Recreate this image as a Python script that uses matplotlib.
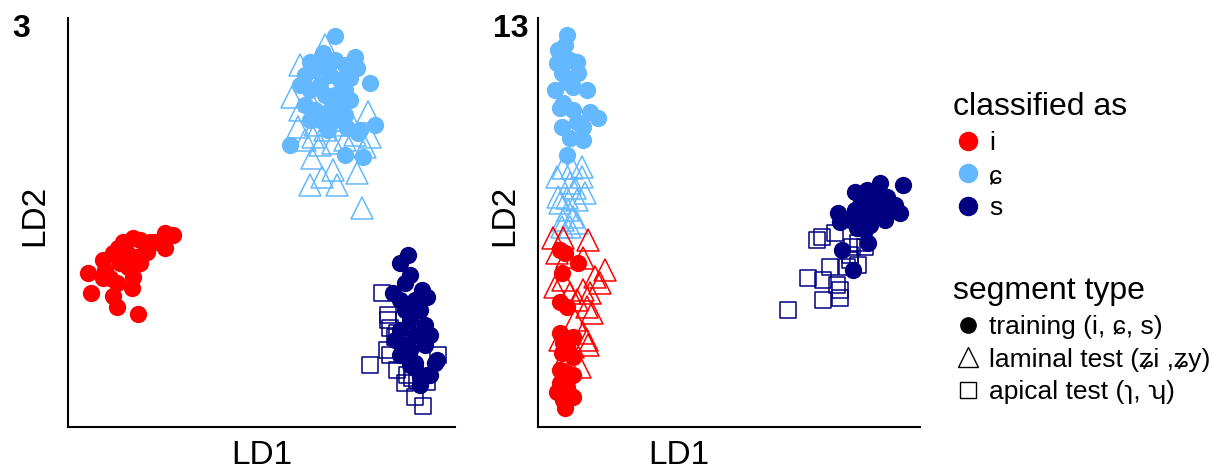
import matplotlib
matplotlib.use("Agg")
import matplotlib.pyplot as plt
from matplotlib.lines import Line2D

plt.rcParams['font.family'] = ['Liberation Sans', 'DejaVu Sans']

RED = '#FF0000'
LBLUE = '#63B8FF'
NAVY = '#000080'

# ---- panel 3 (LD scores, arbitrary units) ----
p3_i_train_x = [20, 23, 45, 49, 70, 64, 65, 55, 65, 87, 97, 105, 97, 79, 35, 37, 45, 52, 60, 42, 35, 49, 69, 59, 50, 72, 72, 82]
p3_i_train_y = [154, 134, 131, 120, 113, 139, 150, 185, 189, 185, 194, 192, 179, 175, 167, 157, 174, 164, 160, 149, 149, 144, 170, 174, 179, 164, 187, 185]

p3_c_train_x = [267, 255, 287, 289, 302, 242, 307, 222, 277, 295, 290, 279, 292, 237, 247, 257, 267, 277, 262, 252, 272, 242, 257, 267, 277, 282, 237, 247, 262, 272, 252, 267, 242, 277, 232, 282, 260]
p3_c_train_y = [391, 374, 370, 359, 344, 365, 302, 282, 272, 270, 294, 299, 297, 352, 357, 362, 367, 362, 352, 342, 347, 337, 332, 332, 337, 349, 322, 317, 317, 322, 307, 307, 307, 312, 342, 327, 297]

p3_c_test_x = [257, 232, 224, 300, 230, 245, 302, 265, 297, 244, 265, 289, 242, 269, 254, 294, 237, 232, 247, 257, 272, 282, 287, 262, 242, 277, 252, 237]
p3_c_test_y = [382, 362, 330, 315, 300, 290, 290, 284, 280, 269, 257, 254, 242, 242, 250, 219, 347, 317, 302, 297, 302, 307, 292, 307, 327, 287, 282, 287]

p3_s_train_x = [340, 332, 342, 337, 325, 354, 359, 367, 352, 347, 369, 347, 359, 332, 337, 342, 332, 347, 337, 352, 357, 342, 332, 357, 347, 362, 327, 342, 352, 362]
p3_s_train_y = [172, 164, 152, 144, 134, 137, 130, 64, 50, 59, 67, 64, 52, 127, 117, 107, 97, 92, 82, 117, 102, 77, 72, 82, 127, 92, 87, 62, 42, 52]

p3_s_test_x = [314, 320, 320, 322, 319, 322, 302, 339, 344, 349, 359, 347, 355, 370, 327, 329, 337, 329]
p3_s_test_y = [134, 112, 107, 99, 77, 72, 62, 52, 49, 47, 45, 30, 21, 72, 90, 94, 44, 57]

# ---- panel 13 ----
p13_c_train_x = [29, 20, 39, 19, 40, 24, 17, 35, 49, 25, 22, 52, 60, 24, 39, 45, 32, 45, 29, 35, 29, 32, 27]
p13_c_train_y = [392, 377, 365, 364, 354, 354, 337, 340, 337, 324, 319, 315, 309, 300, 305, 300, 289, 287, 272, 317, 345, 367, 382]

p13_c_test_x = [44, 34, 25, 19, 44, 32, 37, 47, 20, 29, 39, 22, 30, 35, 25, 39, 24, 32]
p13_c_test_y = [260, 259, 259, 250, 250, 244, 239, 234, 230, 229, 227, 224, 217, 210, 207, 204, 200, 200]

p13_i_train_x = [22, 27, 40, 24, 22, 29, 22, 35, 25, 30, 24, 35, 22, 29, 35, 22, 29, 19, 32, 25, 27, 35]
p13_i_train_y = [177, 174, 164, 154, 125, 120, 94, 90, 84, 77, 74, 70, 57, 54, 52, 44, 40, 35, 32, 27, 19, 30]

p13_i_test_x = [15, 25, 50, 19, 29, 45, 67, 57, 62, 17, 25, 32, 45, 52, 39, 49, 54, 37, 45, 49, 22, 35, 42, 29, 50]
p13_i_test_y = [189, 189, 187, 174, 170, 169, 157, 150, 144, 140, 147, 134, 137, 134, 127, 120, 114, 107, 94, 87, 87, 80, 60, 74, 82]

p13_s_train_x = [365, 342, 317, 329, 349, 300, 302, 362, 304, 315, 322, 332, 342, 352, 337, 327, 317, 347, 332, 322, 312, 357, 340, 327, 319, 327, 330]
p13_s_train_y = [242, 244, 235, 237, 230, 214, 205, 214, 177, 157, 222, 227, 219, 217, 212, 212, 217, 207, 202, 202, 207, 222, 234, 229, 199, 197, 184]

p13_s_test_x = [250, 279, 284, 297, 270, 285, 292, 299, 302, 285, 302, 320, 327, 314, 312, 320, 312, 309]
p13_s_test_y = [117, 187, 190, 194, 149, 147, 160, 142, 129, 127, 137, 184, 180, 180, 167, 162, 172, 160]

fig = plt.figure(figsize=(12.2, 4.72), dpi=100)
ax1 = fig.add_axes([68 / 1220, 45 / 472, 387 / 1220, 409 / 472])
ax2 = fig.add_axes([538 / 1220, 45 / 472, 382 / 1220, 409 / 472])

S_CIRC, S_TRI, S_SQ = 155, 250, 135
LW = 1.1

def panel(ax, groups):
    for x, y, col, kind in groups:
        if kind == 'train':
            ax.scatter(x, y, s=S_CIRC, c=col, marker='o', linewidths=0, zorder=3)
        elif kind == 'tri':
            ax.scatter(x, y, s=S_TRI, facecolors='none', edgecolors=col, marker='^', linewidths=LW, zorder=2)
        else:
            ax.scatter(x, y, s=S_SQ, facecolors='none', edgecolors=col, marker='s', linewidths=LW, zorder=2)
    for sp in ['top', 'right']:
        ax.spines[sp].set_visible(False)
    for sp in ['left', 'bottom']:
        ax.spines[sp].set_linewidth(1.5)
    ax.set_xticks([])
    ax.set_yticks([])
    ax.set_ylim(0, 409)

panel(ax1, [(p3_c_test_x, p3_c_test_y, LBLUE, 'tri'),
            (p3_s_test_x, p3_s_test_y, NAVY, 'sq'),
            (p3_i_train_x, p3_i_train_y, RED, 'train'),
            (p3_c_train_x, p3_c_train_y, LBLUE, 'train'),
            (p3_s_train_x, p3_s_train_y, NAVY, 'train')])
ax1.set_xlim(0, 387)

panel(ax2, [(p13_c_test_x, p13_c_test_y, LBLUE, 'tri'),
            (p13_i_test_x, p13_i_test_y, RED, 'tri'),
            (p13_s_test_x, p13_s_test_y, NAVY, 'sq'),
            (p13_c_train_x, p13_c_train_y, LBLUE, 'train'),
            (p13_i_train_x, p13_i_train_y, RED, 'train'),
            (p13_s_train_x, p13_s_train_y, NAVY, 'train')])
ax2.set_xlim(0, 382)

# axis titles
fig.text(262 / 1220, 16 / 472, 'LD1', fontsize=24, ha='center', va='center')
fig.text(679 / 1220, 16 / 472, 'LD1', fontsize=24, ha='center', va='center')
fig.text(35 / 1220, 257 / 472, 'LD2', fontsize=24, ha='center', va='center', rotation=90)
fig.text(505 / 1220, 257 / 472, 'LD2', fontsize=24, ha='center', va='center', rotation=90)

# panel labels
fig.text(21 / 1220, 435 / 472, '3', fontsize=23, fontweight='bold', ha='center', va='baseline')
fig.text(511 / 1220, 435 / 472, '13', fontsize=23, fontweight='bold', ha='center', va='baseline')

# legends
h1 = [Line2D([], [], marker='o', ls='', color=c, markersize=13) for c in [RED, LBLUE, NAVY]]
leg1 = fig.legend(h1, ['i', 'ɕ', 's'], title='classified as', loc='upper left',
                  bbox_to_anchor=(940 / 1220, 393 / 472), frameon=False, fontsize=19,
                  title_fontsize=23, alignment='left', handletextpad=0.2,
                  labelspacing=0.33, handlelength=1.15, borderpad=0)

h2 = [Line2D([], [], marker='o', ls='', color='black', markersize=11),
      Line2D([], [], marker='^', ls='', markerfacecolor='none', markeredgecolor='black', markersize=15, markeredgewidth=1),
      Line2D([], [], marker='s', ls='', markerfacecolor='none', markeredgecolor='black', markersize=11, markeredgewidth=1)]
leg2 = fig.legend(h2, ['training (i, ɕ, s)', 'laminal test (ʑi ,ʑy)', 'apical test (ɿ, ʮ)'],
                  title='segment type', loc='upper left',
                  bbox_to_anchor=(940 / 1220, 209 / 472), frameon=False, fontsize=19,
                  title_fontsize=23, alignment='left', handletextpad=0.2,
                  labelspacing=0.33, handlelength=1.15, borderpad=0)

plt.savefig('out.png', dpi=100)
